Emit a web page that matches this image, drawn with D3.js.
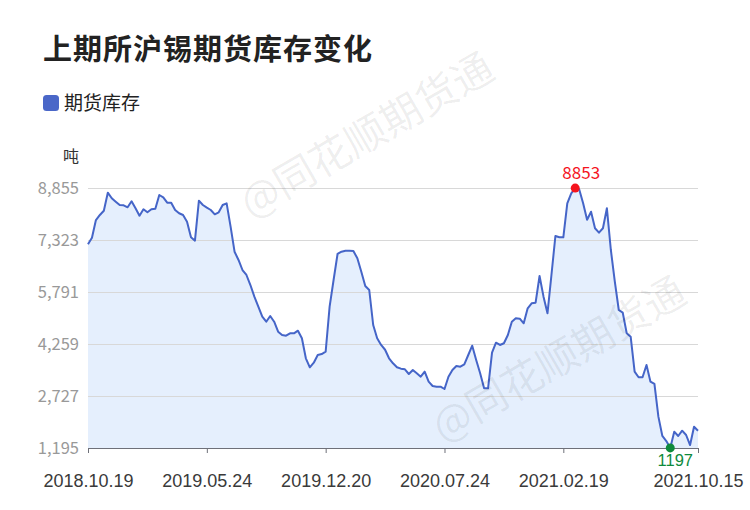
<!DOCTYPE html>
<html><head><meta charset="utf-8">
<script src="https://cdn.jsdelivr.net/npm/d3@7/dist/d3.min.js"></script>
<style>html,body{margin:0;padding:0;background:#fff;}svg{display:block;}</style>
</head><body>
<svg id="c" width="750" height="510"></svg>
<script>
const title = "上期所沪锡期货库存变化";
const seriesName = "期货库存";
const unit = "吨";
const values = [7196,7391,7912,8060,8186,8717,8552,8452,8354,8345,
8286,8463,8257,8039,8228,8139,8228,8245,8649,8581,
8422,8422,8207,8110,8060,7862,7403,7303,8481,8354,
8275,8207,8080,8139,8354,8404,7715,6978,6734,6439,
6292,5997,5653,5358,5064,4916,5084,4916,4621,4524,
4504,4574,4574,4651,4427,3838,3573,3708,3935,3964,
4032,5358,6145,6911,6978,7008,7008,6999,6784,6390,
5968,5850,4819,4427,4230,4090,3838,3690,3573,3532,
3513,3375,3493,3395,3296,3444,3149,3022,3002,3002,
2933,3296,3493,3611,3592,3661,3935,4209,3788,3395,
2953,2953,4003,4298,4230,4280,4524,4916,5016,5005,
4869,5311,5458,5476,6263,5653,5163,6292,7441,7403,
7403,8404,8699,8853,8816,8404,7920,8157,7668,7538,
7668,8257,7029,6095,5261,5182,4574,4475,3444,3278,
3278,3641,3149,3081,2118,1549,1401,1197,1676,1549,
1705,1578,1283,1823,1705];
const tickIndex = [0, 30, 60, 90, 120, 154];
const tickLabels = ["2018.10.19","2019.05.24","2019.12.20","2020.07.24","2021.02.19","2021.10.15"];
const yTicks = [1195, 2727, 4259, 5791, 7323, 8855];

const FONT = "'Noto Sans CJK SC','Noto Sans',sans-serif";
const NUMFONT = "'Liberation Sans',Arial,sans-serif";
const svg = d3.select("#c");
const L = 88, R = 698, T = 188, B = 448;
const x = d3.scalePoint().domain(d3.range(values.length)).range([L, R]);
const y = d3.scaleLinear().domain([yTicks[0], yTicks[yTicks.length-1]]).range([B, T]);

// title
svg.append("text").attr("x", 43).attr("y", 60).text(title)
  .attr("font-family", FONT).attr("font-size", 29).attr("font-weight", "bold")
  .attr("letter-spacing", 1).attr("fill", "#222");

// legend
svg.append("rect").attr("x", 43).attr("y", 95).attr("width", 16).attr("height", 16)
  .attr("rx", 3.5).attr("fill", "#4a67c8");
svg.append("text").attr("x", 64).attr("y", 110).text(seriesName)
  .attr("font-family", FONT).attr("font-size", 19).attr("fill", "#222");

// unit
svg.append("text").attr("x", 63).attr("y", 162).text(unit)
  .attr("font-family", FONT).attr("font-size", 16).attr("fill", "#333");

// area (drawn first), then gridlines, then line
const area = d3.area().x((d, i) => x(i)).y0(B).y1(d => y(d));
svg.append("path").datum(values).attr("d", area).attr("fill", "#e5effd");

const yAxis = d3.axisLeft(y).tickValues(yTicks).tickSize(-(R - L)).tickPadding(9)
  .tickFormat(d3.format(","));
const gy = svg.append("g").attr("transform", `translate(${L},0)`).call(yAxis);
gy.select(".domain").remove();
gy.selectAll(".tick line").attr("stroke", "#d8d8d8");
gy.selectAll(".tick text").attr("font-family", FONT).attr("font-size", 16.5).attr("fill", "#999");

const line = d3.line().x((d, i) => x(i)).y(d => y(d));
svg.append("path").datum(values).attr("d", line).attr("fill", "none")
  .attr("stroke", "#4565c8").attr("stroke-width", 2).attr("stroke-linejoin", "round");

// x axis
const xAxis = d3.axisBottom(x).tickValues(tickIndex).tickSize(5).tickPadding(21)
  .tickFormat(i => tickLabels[tickIndex.indexOf(i)]);
const gx = svg.append("g").attr("transform", `translate(0,${B})`).call(xAxis);
gx.select(".domain").attr("stroke", "#6e7079").attr("d", `M${L},0.5H${R}`);
gx.selectAll(".tick line").attr("stroke", "#6e7079");
gx.selectAll(".tick text").attr("font-family", NUMFONT).attr("font-size", 18).attr("fill", "#3a3a3a");

// watermarks
const wm = [[365, 132], [557, 356]];
wm.forEach(([cx, cy]) => {
  svg.append("text").attr("transform", `translate(${cx},${cy}) rotate(-30)`)
    .attr("text-anchor", "middle").attr("dominant-baseline", "central")
    .attr("font-family", FONT).attr("font-size", 41).attr("fill", "#000")
    .attr("fill-opacity", 0.07).text("@同花顺期货通");
});

// max / min markers
const maxI = d3.maxIndex(values), minI = d3.minIndex(values);
svg.append("circle").attr("cx", x(maxI)).attr("cy", y(values[maxI])).attr("r", 4.5).attr("fill", "#f5141e");
svg.append("text").attr("x", x(maxI) + 6).attr("y", y(values[maxI]) - 9).attr("text-anchor", "middle")
  .attr("font-family", FONT).attr("font-size", 17).attr("fill", "#f5141e").text(values[maxI]);
svg.append("circle").attr("cx", x(minI)).attr("cy", y(values[minI])).attr("r", 4.5).attr("fill", "#0e8a3c");
svg.append("text").attr("x", x(minI) + 5).attr("y", y(values[minI]) + 18).attr("text-anchor", "middle")
  .attr("font-family", NUMFONT).attr("font-size", 16.5).attr("fill", "#0e8a3c").text(values[minI]);
</script>
</body></html>
